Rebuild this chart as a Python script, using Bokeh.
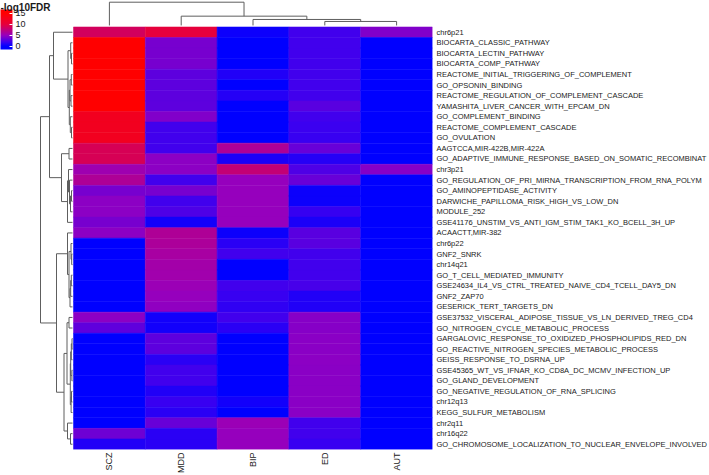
import math
from bokeh.plotting import figure
from bokeh.models import (Range1d, LinearAxis, FixedTicker, ColumnDataSource,
                          LinearColorMapper, ColorBar, Label, AllLabels)
from bokeh.transform import transform
from bokeh.embed import file_html
from bokeh.resources import INLINE

# ---------------- data ----------------
samples = ["SCZ", "MDD", "BIP", "ED", "AUT"]

terms = [
    "chr6p21",
    "BIOCARTA_CLASSIC_PATHWAY",
    "BIOCARTA_LECTIN_PATHWAY",
    "BIOCARTA_COMP_PATHWAY",
    "REACTOME_INITIAL_TRIGGERING_OF_COMPLEMENT",
    "GO_OPSONIN_BINDING",
    "REACTOME_REGULATION_OF_COMPLEMENT_CASCADE",
    "YAMASHITA_LIVER_CANCER_WITH_EPCAM_DN",
    "GO_COMPLEMENT_BINDING",
    "REACTOME_COMPLEMENT_CASCADE",
    "GO_OVULATION",
    "AAGTCCA,MIR-422B,MIR-422A",
    "GO_ADAPTIVE_IMMUNE_RESPONSE_BASED_ON_SOMATIC_RECOMBINAT",
    "chr3p21",
    "GO_REGULATION_OF_PRI_MIRNA_TRANSCRIPTION_FROM_RNA_POLYM",
    "GO_AMINOPEPTIDASE_ACTIVITY",
    "DARWICHE_PAPILLOMA_RISK_HIGH_VS_LOW_DN",
    "MODULE_252",
    "GSE41176_UNSTIM_VS_ANTI_IGM_STIM_TAK1_KO_BCELL_3H_UP",
    "ACAACTT,MIR-382",
    "chr6p22",
    "GNF2_SNRK",
    "chr14q21",
    "GO_T_CELL_MEDIATED_IMMUNITY",
    "GSE24634_IL4_VS_CTRL_TREATED_NAIVE_CD4_TCELL_DAY5_DN",
    "GNF2_ZAP70",
    "GESERICK_TERT_TARGETS_DN",
    "GSE37532_VISCERAL_ADIPOSE_TISSUE_VS_LN_DERIVED_TREG_CD4",
    "GO_NITROGEN_CYCLE_METABOLIC_PROCESS",
    "GARGALOVIC_RESPONSE_TO_OXIDIZED_PHOSPHOLIPIDS_RED_DN",
    "GO_REACTIVE_NITROGEN_SPECIES_METABOLIC_PROCESS",
    "GEISS_RESPONSE_TO_DSRNA_UP",
    "GSE45365_WT_VS_IFNAR_KO_CD8A_DC_MCMV_INFECTION_UP",
    "GO_GLAND_DEVELOPMENT",
    "GO_NEGATIVE_REGULATION_OF_RNA_SPLICING",
    "chr12q13",
    "KEGG_SULFUR_METABOLISM",
    "chr2q11",
    "chr16q22",
    "GO_CHROMOSOME_LOCALIZATION_TO_NUCLEAR_ENVELOPE_INVOLVED",
]

# -log10 FDR per sample (rows in the order of `terms`)
SCZ = [8.7, 15, 15, 15, 15, 15, 15, 15, 12.4, 12.4,
       12.4, 9.0, 9.0, 5.5, 6.5, 4.0, 4.7, 4.7, 4.0, 4.7,
       0, 0, 0, 0, 0, 0, 0, 4.7, 3.2, 0,
       0, 0, 0, 0, 0, 0, 0, 0, 3.7, 1.1]
MDD = [10.0, 4.0, 4.0, 4.0, 3.1, 3.1, 3.1, 3.1, 4.3, 2.2,
       2.2, 2.2, 4.7, 4.7, 2.2, 4.0, 2.2, 2.6, 0.6, 6.5,
       6.4, 6.1, 5.8, 5.7, 5.3, 5.0, 4.8, 0.6, 0.6, 3.1,
       3.1, 1.4, 2.2, 2.2, 1.1, 1.9, 1.4, 3.5, 1.4, 1.4]
BIP = [0.4, 0, 0, 0, 1.1, 0, 1.3, 0, 0, 0,
       0, 6.5, 0.9, 7.8, 5.0, 5.0, 5.0, 5.0, 5.0, 0.4,
       1.4, 2.2, 0, 0, 2.2, 1.9, 1.6, 2.2, 1.4, 0,
       0, 0, 0, 0, 0, 0.6, 0, 5.3, 5.0, 5.0]
ED = [2.2, 2.2, 2.2, 2.2, 2.2, 2.2, 2.2, 3.0, 2.2, 2.0,
      1.9, 3.5, 1.3, 2.6, 3.5, 0.4, 0.4, 1.8, 0.9, 3.0,
      3.0, 2.2, 2.2, 2.2, 2.4, 1.1, 1.1, 4.5, 4.5, 4.6,
      4.6, 4.7, 4.6, 4.6, 4.6, 4.6, 4.6, 2.2, 2.2, 1.9]
AUT = [4.3, 0, 0, 0, 0, 0, 0, 0, 0, 0,
       0, 0, 0, 4.5, 0, 0, 0, 0, 0, 0,
       0, 0, 0, 0, 0, 0, 0, 0, 0, 0,
       0, 0, 0, 0, 0, 0, 0, 0, 0, 0]

legend_ticks = [0, 5, 10, 15]
legend_low, legend_high = -1.4, 16.8

# column dendrogram (leaves 0..4 = samples; new nodes numbered from 5)
col_tree_left = [3, 2, 1, 0]
col_tree_right = [4, 5, 6, 7]
col_tree_height = [4.0, 6.0, 9.3, 23.3]

# row dendrogram (leaves 0..39 = terms; new nodes numbered from 40)
row_tree_left = [2, 1, 4, 6, 42, 9, 8, 44, 41, 0,
                 11, 15, 51, 14, 13, 54, 50,
                 21, 20, 23, 59, 60, 58, 19,
                 49,
                 27, 29, 32, 66, 68, 34, 70, 69, 65,
                 38, 37, 73,
                 63, 64]
row_tree_right = [3, 40, 5, 7, 43, 10, 45, 46, 47, 48,
                  12, 16, 17, 52, 53, 18, 55,
                  22, 57, 24, 25, 26, 61, 62,
                  56,
                  28, 30, 33, 31, 67, 35, 36, 71, 72,
                  39, 74, 75,
                  76, 77]
row_tree_height = [1.0, 1.8, 1.2, 1.5, 2.5, 1.0, 2.2, 3.2, 4.5, 19.0,
                   3.5, 1.0, 2.0, 3.0, 4.0, 5.0, 11.0,
                   0.8, 1.5, 1.2, 1.8, 2.5, 3.5, 5.0,
                   23.0,
                   3.5, 0.5, 0.6, 1.2, 1.8, 1.0, 1.4, 2.2, 5.5,
                   2.0, 5.0, 8.5,
                   16.0, 32.0]

values = {"SCZ": SCZ, "MDD": MDD, "BIP": BIP, "ED": ED, "AUT": AUT}

# ---------------- colours ----------------
colour_stops = [(0, (0, 0, 255)), (2, (60, 0, 240)), (5, (150, 0, 190)),
                (10, (230, 0, 60)), (15, (255, 0, 0))]

def ramp(stops, low, high, n=256):
    out = []
    for k in range(n):
        v = low + (high - low) * k / (n - 1)
        v = min(max(v, stops[0][0]), stops[-1][0])
        for (v0, c0), (v1, c1) in zip(stops[:-1], stops[1:]):
            if v0 <= v <= v1:
                t = (v - v0) / (v1 - v0)
                c = [round(a + (b - a) * t) for a, b in zip(c0, c1)]
                out.append("#%02x%02x%02x" % tuple(c))
                break
    return out

palette = ramp(colour_stops, legend_low, legend_high)
mapper = LinearColorMapper(palette=palette, low=legend_low, high=legend_high)

# ---------------- layout ----------------
W, H = 709, 475
FRAME_R = 432          # right edge of heat map (frame)
FRAME_B = 450          # bottom edge of heat map (frame)
HM_L = 73              # left edge of heat map
HM_T = 26.5            # top edge of heat map
n_rows, n_cols = len(terms), len(samples)
px_x = (FRAME_R - HM_L) / n_cols
px_y = (FRAME_B - HM_T) / n_rows

x_lo = 0.5 - HM_L / px_x
y_hi = n_rows + 0.5 + HM_T / px_y
p = figure(width=W, height=H,
           x_range=Range1d(x_lo, n_cols + 0.5),
           y_range=Range1d(0.5, y_hi),
           output_backend="svg", toolbar_location=None,
           x_axis_location=None, y_axis_location=None,
           min_border_left=0, min_border_top=0,
           min_border_right=W - FRAME_R, min_border_bottom=H - FRAME_B)
p.grid.visible = False
p.outline_line_color = None
p.background_fill_color = "white"

# heat map cells
xs, ys, vs = [], [], []
for j, s in enumerate(samples):
    for i, t in enumerate(terms):
        xs.append(j + 1)
        ys.append(n_rows - i)
        vs.append(values[s][i])
src = ColumnDataSource(dict(x=xs, y=ys, v=vs))
p.rect("x", "y", 1, 1, source=src, fill_color=transform("v", mapper),
       line_color=transform("v", mapper), line_width=0.5)

# dendrograms
def tree_segments(leaf_pos, left, right, height):
    pos = list(leaf_pos)
    hts = [0.0] * len(leaf_pos)
    segs = []
    for a, b, h in zip(left, right, height):
        segs.append((h, pos[a], h, pos[b]))
        segs.append((h, pos[a], hts[a], pos[a]))
        segs.append((h, pos[b], hts[b], pos[b]))
        pos.append((pos[a] + pos[b]) / 2)
        hts.append(h)
    return segs

TREE_COLOR = "#5e5e5e"
row_segs = tree_segments([n_rows - i for i in range(n_rows)],
                         row_tree_left, row_tree_right, row_tree_height)
hx = lambda h: 0.5 - (1.0 + h) / px_x
p.segment(x0=[hx(s[0]) for s in row_segs], y0=[s[1] for s in row_segs],
          x1=[hx(s[2]) for s in row_segs], y1=[s[3] for s in row_segs],
          line_color=TREE_COLOR, line_width=1)

col_segs = tree_segments([j + 1 for j in range(n_cols)],
                         col_tree_left, col_tree_right, col_tree_height)
hy = lambda h: n_rows + 0.5 + (1.5 + h) / px_y
p.segment(x0=[s[1] for s in col_segs], y0=[hy(s[0]) for s in col_segs],
          x1=[s[3] for s in col_segs], y1=[hy(s[2]) for s in col_segs],
          line_color=TREE_COLOR, line_width=1)

# row labels (right)
yaxis = LinearAxis(ticker=FixedTicker(ticks=[n_rows - i for i in range(n_rows)]),
                   major_label_overrides={n_rows - i: t for i, t in enumerate(terms)})
yaxis.axis_line_color = None
yaxis.major_tick_line_color = None
yaxis.minor_tick_line_color = None
yaxis.major_tick_out = 0
yaxis.major_tick_in = 0
yaxis.major_label_standoff = 4
yaxis.major_label_text_font = "Liberation Sans"
yaxis.major_label_text_font_size = "7.5px"
yaxis.major_label_text_color = "#1a1a1a"
p.add_layout(yaxis, "right")

# column labels (bottom, vertical)
xaxis = LinearAxis(ticker=FixedTicker(ticks=[j + 1 for j in range(n_cols)]),
                   major_label_overrides={j + 1: s for j, s in enumerate(samples)})
xaxis.axis_line_color = None
xaxis.major_tick_line_color = None
xaxis.minor_tick_line_color = None
xaxis.major_tick_out = 0
xaxis.major_tick_in = 0
xaxis.major_label_standoff = 3
xaxis.major_label_orientation = math.pi / 2
xaxis.major_label_text_font = "Liberation Sans"
xaxis.major_label_text_font_size = "9px"
xaxis.major_label_text_color = "#1a1a1a"
p.add_layout(xaxis, "below")

# colour legend
BAR_TOP, BAR_H = 10, 40
cb = ColorBar(color_mapper=mapper, ticker=FixedTicker(ticks=legend_ticks),
              major_label_policy=AllLabels(),
              major_label_text_font_size="9px", major_label_text_font="Liberation Sans",
              major_label_text_color="#1a1a1a",
              width=12, height=BAR_H, location=(0, FRAME_B - BAR_TOP - BAR_H),
              padding=0, margin=0,
              label_standoff=3, major_tick_line_color="white",
              major_tick_in=3, major_tick_out=0, bar_line_color=None,
              border_line_color=None, background_fill_alpha=0)
p.add_layout(cb)
p.add_layout(Label(x=x_lo, y=y_hi, text="-log10FDR", text_baseline="top",
                   text_align="left", y_offset=-1, text_font_style="bold",
                   text_font_size="10px", text_font="Liberation Sans",
                   text_color="#1a1a1a"))

open("out.html", "w").write(file_html(p, INLINE))
